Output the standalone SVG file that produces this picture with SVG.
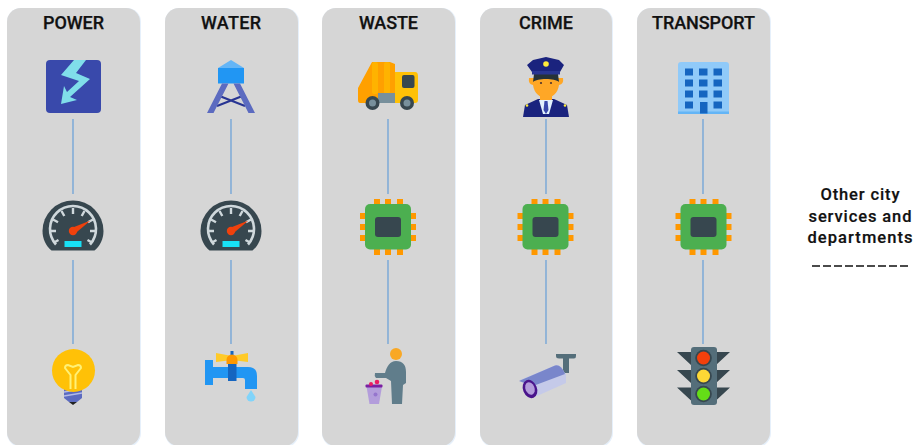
<svg xmlns="http://www.w3.org/2000/svg" width="920" height="445" viewBox="0 0 920 445">
<style>
.panel{fill:#d6d6d6}
.halo{fill:#e6f0fb}
.title{font-family:"Roboto","Liberation Sans",sans-serif;font-weight:500;font-size:18px;fill:#111;stroke:#111;stroke-width:.25;text-anchor:middle}
.side{font-family:"Roboto","Liberation Sans",sans-serif;font-weight:500;font-size:16.5px;fill:#111;stroke:#111;stroke-width:.2;text-anchor:middle}
.link{stroke:#6fa3d8;stroke-width:1.3;fill:none}
</style>
<defs>
<g id="gauge">
<path d="M-21.500 19.500C-27 15-30.500 8-30.500 0A30.500 30.500 0 0 1 30.500 0C30.500 8 27 15 21.500 19.500Z" fill="#37474f"/>
<path d="M-17 13.500A23 23 0 1 1 17 13.500" fill="none" stroke="#cfd8dc" stroke-width="2.600"/>
<path d="M-23 0H-17M-20 -11.500L-15 -8.700M-11.500 -20L-8.700 -15M0 -23V-17M11.500 -20L8.700 -15M20 -11.500L15 -8.700M23 0H17M-19 11.500L-14.500 9M19 11.500L14.500 9" stroke="#cfd8dc" stroke-width="2.400"/>
<rect x="-8.500" y="10" width="17" height="6" fill="#18e0f5"/>
<path d="M-1.500 -3L17.500 -10.500L1.500 3Z" fill="#f0410c"/>
<circle r="4.200" fill="#f0410c"/>
</g>
<g id="chip">
<path d="M-14 -28h6v6h-6zM-3 -28h6v6h-6zM9 -28h6v6h-6zM-14 22h6v6h-6zM-3 22h6v6h-6zM9 22h6v6h-6zM-28 -14h6v6h-6zM-28 -3h6v6h-6zM-28 8h6v6h-6zM22 -14h6v6h-6zM22 -3h6v6h-6zM22 8h6v6h-6z" fill="#ff9800"/>
<rect x="-23" y="-23" width="46" height="45.500" rx="5" fill="#4caf50"/>
<rect x="-13" y="-10" width="26" height="20" rx="3" fill="#37474f"/>
</g>
</defs>

<g id="panels">
<rect class="halo" x="7" y="8" width="134" height="439" rx="14"/><rect class="panel" x="7" y="8" width="133" height="438" rx="14"/>
<rect class="halo" x="165" y="8" width="134" height="439" rx="14"/><rect class="panel" x="165" y="8" width="133" height="438" rx="14"/>
<rect class="halo" x="322" y="8" width="134" height="439" rx="14"/><rect class="panel" x="322" y="8" width="133" height="438" rx="14"/>
<rect class="halo" x="480" y="8" width="133" height="439" rx="14"/><rect class="panel" x="480" y="8" width="132" height="438" rx="14"/>
<rect class="halo" x="637" y="8" width="134" height="439" rx="14"/><rect class="panel" x="637" y="8" width="133" height="438" rx="14"/>
</g>

<g id="connectors">
<path class="link" d="M73 119V194M73 260V344M231 119V194M231 260V344M388 119V194M388 260V344M546 119V194M546 260V344M703 119V194M703 260V344"/>
</g>

<g id="power-title"><text class="title" x="73.500" y="29" textLength="61">POWER</text></g>
<g id="water-title"><text class="title" x="231" y="29" textLength="60">WATER</text></g>
<g id="waste-title"><text class="title" x="388.500" y="29" textLength="59">WASTE</text></g>
<g id="crime-title"><text class="title" x="546" y="29" textLength="54">CRIME</text></g>
<g id="transport-title"><text class="title" x="703.500" y="29" textLength="103">TRANSPORT</text></g>

<g id="power-source">
<rect x="46" y="60" width="55" height="53" rx="4" fill="#3949ab"/>
<path d="M74 60H86L76 73L90 79L70 97L77 100L61 104L64 86L67 92L79 81L61 75Z" fill="#80deea"/>
</g>
<g id="water-tower">
<path d="M218 68L231 60L244 68Z" fill="#64b5f6"/>
<rect x="218" y="68" width="26" height="15.500" fill="#2196f3"/>
<path d="M217 95L245 106M245 95L217 106" stroke="#283593" stroke-width="2" fill="none"/>
<path d="M222 83.500H228.500L213.500 113H207ZM233.500 83.500H240L255 113H248.500Z" fill="#5c6bc0"/>
</g>
<g id="waste-truck">
<path d="M358 88L372 62H390L395 64V93H378V103H360Q358 103 358 100Z" fill="#ffa000"/>
<rect x="372" y="62" width="6" height="32" rx="2" fill="#ffb300"/>
<rect x="384" y="62" width="6" height="32" rx="2" fill="#ffb300"/>
<path d="M395 72H415Q418 72 418 76V100Q418 103 415 103H395Z" fill="#ffc107"/>
<rect x="402" y="75" width="12.500" height="13" rx="2" fill="#37474f"/>
<rect x="378" y="93" width="17" height="10" fill="#78909c"/>
<circle cx="372.500" cy="103" r="7" fill="#37474f"/><circle cx="372.500" cy="103" r="3.500" fill="#78909c"/>
<circle cx="407" cy="103" r="7" fill="#37474f"/><circle cx="407" cy="103" r="3.500" fill="#78909c"/>
</g>
<g id="police-officer">
<path d="M523 117L525 105L538 99H554L567 105L569 117Z" fill="#1a237e"/>
<path d="M529 78H563Q564 84 559 85C558 93 552 98 546 98C540 98 534 93 533 85Q528 84 529 78Z" fill="#ffa726"/>
<rect x="540" y="94" width="12" height="7" fill="#ffa726"/>
<path d="M539 100H553L549 114H543Z" fill="#e3f2fd"/>
<path d="M544.500 101H547.500L548.500 110L546 114L543.500 110Z" fill="#3949ab"/>
<path d="M533 82L534 74H558L559 82C555 78 537 78 533 82Z" fill="#263238"/>
<path d="M527 65L533 60L546 57L559 60L564 65L560 72Q546 70 532 72Z" fill="#1a237e"/>
<rect x="532" y="71" width="28" height="3.500" fill="#283593"/>
<circle cx="546" cy="64" r="2.800" fill="#ffeb3b"/>
<circle cx="541" cy="83" r="1.100" fill="#4e342e"/><circle cx="551" cy="83" r="1.100" fill="#4e342e"/>
<circle cx="527" cy="105.500" r="1.300" fill="#ffeb3b"/><circle cx="565" cy="105.500" r="1.300" fill="#ffeb3b"/>
</g>
<g id="building">
<rect x="678" y="62" width="51" height="52" rx="3" fill="#90caf9"/>
<rect x="678" y="111.500" width="51" height="2.500" fill="#64b5f6"/>
<path d="M685 68.500h8v7h-8zM699 68.500h8.500v7h-8.500zM713.500 68.500h8.500v7h-8.500zM685 79.500h8v7h-8zM699 79.500h8.500v7h-8.500zM713.500 79.500h8.500v7h-8.500zM685 90.500h8v7h-8zM699 90.500h8.500v7h-8.500zM713.500 90.500h8.500v7h-8.500zM685 101.500h8v7h-8zM713.500 101.500h8.500v7h-8.500zM700 102h7.500v11.500h-7.500z" fill="#1565c0"/>
</g>

<g id="power-meter"><use href="#gauge" x="73" y="231"/></g>
<g id="water-meter"><use href="#gauge" x="231" y="231"/></g>
<g id="waste-chip"><use href="#chip" x="388" y="227"/></g>
<g id="crime-chip"><use href="#chip" x="545.500" y="227"/></g>
<g id="transport-chip"><use href="#chip" x="703.500" y="227"/></g>

<g id="light-bulb">
<path d="M64 389H82V398L77 402H69L64 398Z" fill="#5c6bc0"/>
<path d="M64 392L82 389M64 396L82 393" stroke="#b3bbe8" stroke-width="1.300"/>
<path d="M69 402H77L73 405Z" fill="#212121"/>
<circle cx="73.500" cy="370.500" r="21.500" fill="#ffc107"/>
<path d="M70.500 389V375L65 368Q65 365 68 365L73 367L78 365Q81 365 81 368L75.500 375V389" fill="none" stroke="#fff176" stroke-width="2"/>
</g>
<g id="faucet">
<path d="M205 360H213V367H248Q257 367 257 376V389H245V380Q245 378 243 378H213V385H205Z" fill="#2196f3"/>
<path d="M251 390L255.500 397A4.500 4.500 0 1 1 246.500 397Z" fill="#81d4fa"/>
<rect x="228" y="362" width="8.500" height="19" fill="#1565c0"/>
<path d="M216 353L232 356L248 353V362L232 360L216 362Z" fill="#ffca28"/>
<rect x="230.500" y="351" width="3" height="5" fill="#1565c0"/>
<path d="M226.500 364V360A5.500 5.500 0 0 1 237.500 360V364Z" fill="#ff9800"/>
</g>
<g id="person-trash">
<circle cx="396" cy="354" r="6" fill="#f9a825"/>
<path d="M375 373L385 373C387 366 390 361 396 361C403 361 406 365 406 372V383L403 385L402 404H392L391 381L386 378H376Q374 376 375 373Z" fill="#607d8b"/>
<path d="M366.500 386.500H382L379 404H369.500Z" fill="#b39ddb"/>
<rect x="365.500" y="384.500" width="17" height="3" rx="1" fill="#7b1fa2"/>
<circle cx="371" cy="384" r="2" fill="#e91e63"/><circle cx="377" cy="382" r="2.300" fill="#e91e63"/>
<circle cx="375.500" cy="394.500" r="2" fill="#9575cd"/>
</g>
<g id="camera">
<path d="M556 354H576V356Q576 358.500 574 358.500H569V373H563V358.500H559Q556 358.500 556 356Z" fill="#546e7a"/>
<path d="M520 380L555 365.500Q561 364 564 372L566 374V383L537 396Z" fill="#c5cae9"/>
<path d="M519 381L555 365.500Q561 364 565 374L533 386Z" fill="#7986cb"/>
<ellipse cx="530" cy="389" rx="7" ry="9.500" transform="rotate(-22 530 389)" fill="#4a148c"/>
<ellipse cx="530" cy="388.500" rx="4.500" ry="6.500" transform="rotate(-22 530 388.500)" fill="#b39ddb"/>
</g>
<g id="traffic-light">
<path d="M677 352H691V365ZM716 352H730L716 365ZM677 370H691V383ZM716 370H730L716 383ZM677 387.500H691V400.500ZM716 387.500H730L716 400.500Z" fill="#37474f"/>
<rect x="691" y="347" width="26" height="58" rx="3" fill="#546e7a"/>
<circle cx="703.500" cy="358" r="8.300" fill="#37474f"/><circle cx="703.500" cy="358" r="6.500" fill="#f4400c"/>
<circle cx="703.500" cy="376" r="8.300" fill="#37474f"/><circle cx="703.500" cy="376" r="6.500" fill="#fdd835"/>
<circle cx="703.500" cy="394" r="8.300" fill="#37474f"/><circle cx="703.500" cy="394" r="6.500" fill="#64dd17"/>
</g>

<g id="other-services">
<text class="side" x="860" y="200" textLength="79">Other city</text>
<text class="side" x="860" y="222" textLength="103">services and</text>
<text class="side" x="860" y="243" textLength="105">departments</text>
<path d="M812 266H910" stroke="#111" stroke-width="1.400" stroke-dasharray="8 3" fill="none"/>
</g>
</svg>
